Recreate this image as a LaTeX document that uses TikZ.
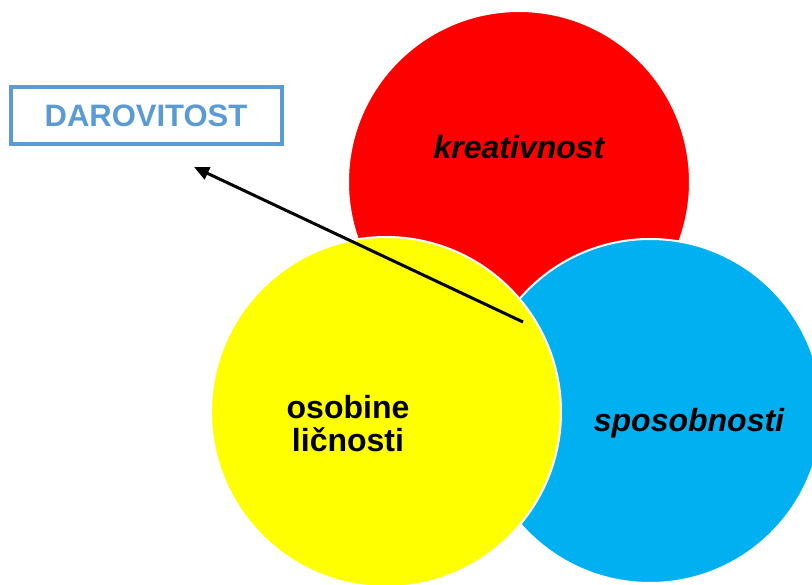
\documentclass[tikz,border=0pt]{standalone}
\usepackage{fontspec}
\setmainfont{Liberation Sans}
\usetikzlibrary{arrows.meta}
\definecolor{cred}{HTML}{FF0000}
\definecolor{cyel}{HTML}{FFFF00}
\definecolor{cblue}{HTML}{00B0F0}
\definecolor{cbox}{HTML}{5B9BD5}
\tikzset{
  disc/.style={circle, draw=white, line width=2pt, inner sep=0pt, minimum size=#1},
  lab/.style={font=\fontsize{32}{33}\selectfont\bfseries, text=black, align=center, inner sep=0pt},
  boxlab/.style={draw=cbox, line width=4pt, text=cbox, font=\fontsize{31}{33}\selectfont\bfseries,
     minimum width=271pt, minimum height=57pt, inner sep=0pt},
  arr/.style={line width=3pt, -{Triangle[length=15pt,width=13pt]}}
}
\begin{document}
\begin{tikzpicture}[x=1pt,y=-1pt]
\useasboundingbox (0,0) rectangle (812,585);
\node[disc=342pt, fill=cred] (red) at (519,182) {};
\node[disc=344pt, fill=cblue] (blue) at (650,411) {};
\node[disc=350pt, fill=cyel] (yellow) at (386,412) {};
\coordinate (astart) at (523,322);
\coordinate (aend) at (194,167);
\draw[arr] (astart) -- (aend);
\node[lab] (tk) at (519,147) {\itshape kreativnost};
\node[lab] (ts) at (689,423) {\itshape sposobnosti};
\node[lab] (to) at (348,424) {osobine\\ličnosti};
\node[boxlab] (dar) at (146,115.5) {DAROVITOST};
\end{tikzpicture}
\end{document}
